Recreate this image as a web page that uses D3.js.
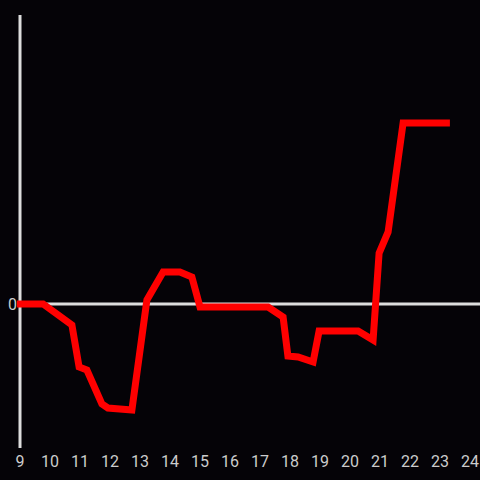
<!DOCTYPE html>
<html>
<head>
<meta charset="utf-8">
<title>Chart</title>
<script src="https://d3js.org/d3.v7.min.js"></script>
<style>
  html, body { margin: 0; padding: 0; background: #050307; }
  svg { display: block; }
</style>
</head>
<body>
<div id="mychart"></div>
<script>
  // hour of day and value (0 = baseline)
  var hours = [8.9, 9.77, 10.73, 10.97, 11.23, 11.73, 11.93, 12.73, 13.23, 13.77, 14.33, 14.73, 15.0,
               17.27, 17.77, 17.93, 18.27, 18.77, 18.97, 20.27, 20.77, 20.97, 21.27, 21.77, 23.33];
  var values = [0, 0, -21, -63, -66, -100, -104, -106, 4, 32, 32, 27, -3,
                -3, -13, -52, -53, -58, -27, -27, -36, 51, 72, 181, 181];
  var xTicks = [9, 10, 11, 12, 13, 14, 15, 16, 17, 18, 19, 20, 21, 22, 23, 24];
  var yTicks = [0];

  var width = 480, height = 480;
  var axisColor = "#dddddd";

  var x = d3.scaleLinear().domain([9, 24]).range([20, 470]);
  var y = d3.scaleLinear().domain([-144, 289]).range([448, 15]);

  var svg = d3.select("#mychart")
    .append("svg")
      .attr("width", width)
      .attr("height", height);

  svg.append("rect")
    .attr("width", width)
    .attr("height", height)
    .attr("fill", "#050307");

  // zero line
  svg.append("line")
    .attr("x1", x(9)).attr("x2", width)
    .attr("y1", y(0)).attr("y2", y(0))
    .attr("stroke", axisColor)
    .attr("stroke-width", 3);

  // y axis line
  svg.append("line")
    .attr("x1", x(9)).attr("x2", x(9))
    .attr("y1", y.range()[0]).attr("y2", y.range()[1])
    .attr("stroke", axisColor)
    .attr("stroke-width", 3);

  // x tick labels
  svg.selectAll(".xlab")
    .data(xTicks)
    .enter()
    .append("text")
      .attr("class", "xlab")
      .attr("x", function(d) { return x(d); })
      .attr("y", 467)
      .attr("text-anchor", "middle")
      .attr("fill", "#cccccc")
      .attr("font-family", "Roboto, sans-serif")
      .attr("font-size", 16)
      .text(function(d) { return d; });

  // y tick labels
  svg.selectAll(".ylab")
    .data(yTicks)
    .enter()
    .append("text")
      .attr("class", "ylab")
      .attr("x", 17)
      .attr("y", function(d) { return y(d); })
      .attr("dy", "0.35em")
      .attr("text-anchor", "end")
      .attr("fill", "#cccccc")
      .attr("font-family", "Roboto, sans-serif")
      .attr("font-size", 16)
      .text(function(d) { return d; });

  var line = d3.line()
    .x(function(d, i) { return x(hours[i]); })
    .y(function(d) { return y(d); });

  svg.append("path")
    .datum(values)
    .attr("d", line)
    .attr("fill", "none")
    .attr("stroke", "#ff0000")
    .attr("stroke-width", 7)
    .attr("stroke-linejoin", "miter");
</script>
</body>
</html>
